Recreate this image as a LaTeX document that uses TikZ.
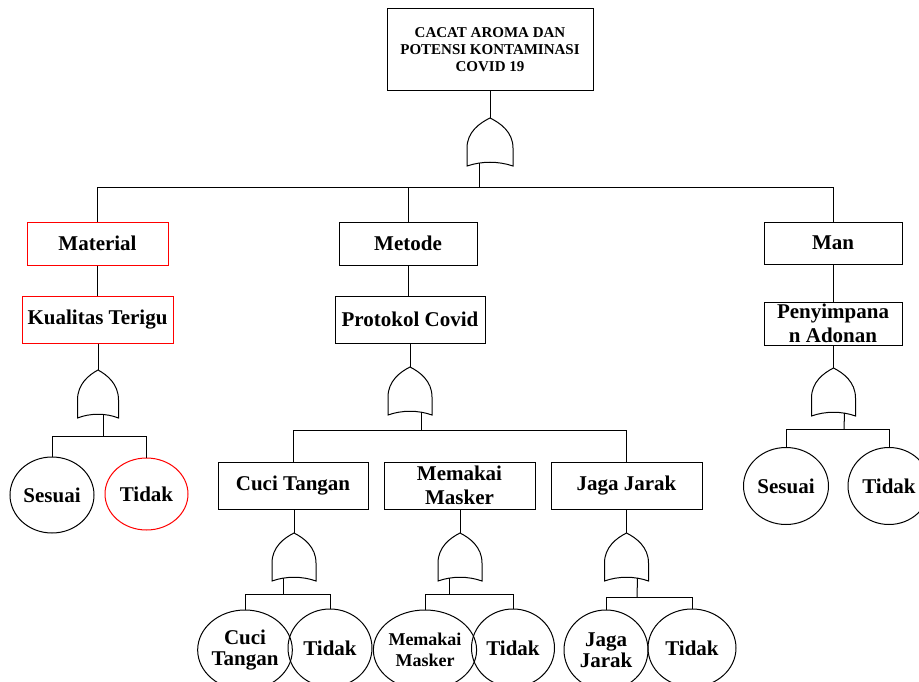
\documentclass[tikz,border=0pt]{standalone}
\usepackage{fontspec}
\setmainfont{Liberation Serif}
\usepackage{tikz}
\usetikzlibrary{shapes.geometric}
\usetikzlibrary{positioning}

\begin{document}
\begin{tikzpicture}[x=1pt,y=-1pt,line width=1pt]
	\tikzset{
	  pics/orgate/.style args={#1/#2}{code={
		\draw (-#1,48) -- (-#1,30) .. controls (-#1,14) and (-0.45*#1,5) .. (0,0)
		  .. controls (0.45*#1,5) and (#1,14) .. (#1,30) -- (#1,48)
		  .. controls (8,43) and (-8,43) .. cycle;
		\coordinate (-in) at (0,0);
		\coordinate (-out) at (#2,45);
		},
	  },
	  box/.style={draw,inner sep=0pt,align=center,font=\bfseries\fontsize{21}{24}\selectfont},
	  redbox/.style={box,draw=red},
	  leaf/.style={ellipse,draw,inner sep=0pt,align=center,minimum width=84,minimum height=78,font=\bfseries\fontsize{21}{21}\selectfont},
	}
	\useasboundingbox (0,0) rectangle (919,682);
	\clip (0,0) rectangle (919,682);
	%TOP EVENT
	\node[box,minimum width=206,minimum height=82,font=\bfseries\fontsize{15}{17}\selectfont] (top) at (490,50)
	  {CACAT AROMA DAN\\POTENSI KONTAMINASI\\COVID 19};
	\pic (g0) at (490,118) {orgate={23/-11}};
	%LEVEL 1
	\node[redbox,minimum width=141,minimum height=43] (mat) at (97.5,243.5) {Material};
	\node[box,minimum width=138,minimum height=43] (met) at (408,243.5) {Metode};
	\node[box,minimum width=138,minimum height=42] (man) at (833,243) {Man};
	%LEVEL 2
	\node[redbox,minimum width=151,minimum height=47] (kual) at (97.5,319.5) {Kualitas Terigu};
	\node[box,minimum width=150,minimum height=47] (prot) at (410,319.5) {Protokol Covid};
	\node[box,minimum width=138,minimum height=43] (peny) at (833,323.5) {Penyimpana\\n Adonan};
	\pic (g1) at (98,370) {orgate={20.5/5}};
	\pic (g2) at (410,367) {orgate={22/11}};
	\pic (g6) at (833.5,368) {orgate={22/11}};
	%LEVEL 3
	\node[box,minimum width=150,minimum height=47] (cuci) at (293,485.5) {Cuci Tangan};
	\node[box,minimum width=151,minimum height=47] (mask) at (459.5,485.5) {Memakai\\Masker};
	\node[box,minimum width=151,minimum height=47] (jaga) at (626.5,485.5) {Jaga Jarak};
	\pic (g3) at (294,533) {orgate={22/-11}};
	\pic (g4) at (460,533) {orgate={22/-11}};
	\pic (g5) at (626.5,533) {orgate={22/11}};
	%LEAVES
	\node[leaf,minimum height=76] (s1) at (52,495) {Sesuai};
	\node[leaf,draw=red,minimum width=83,minimum height=72] (t1) at (146.5,494) {Tidak};
	\node[leaf,minimum width=86,minimum height=80] (ct) at (245,650) {Cuci\\Tangan};
	\node[leaf] (t3) at (330,648) {Tidak};
	\node[leaf,minimum width=83,minimum height=80,font=\bfseries\fontsize{18}{21}\selectfont] (mm) at (425,650) {Memakai\\Masker};
	\node[leaf,minimum width=83] (t4) at (513,648) {Tidak};
	\node[leaf,minimum height=80] (jj) at (606,650) {Jaga\\Jarak};
	\node[leaf,minimum width=88] (t5) at (692,648) {Tidak};
	\node[leaf,minimum width=85,minimum height=77] (s6) at (786,486) {Sesuai};
	\node[leaf,minimum width=82,minimum height=77] (t6) at (889,486) {Tidak};
	%BUSES
	\coordinate (b0) at (479,188);
	\coordinate (b1) at (103,436);
	\coordinate (b2) at (421,430);
	\coordinate (b3) at (283,594);
	\coordinate (b4) at (449,594);
	\coordinate (b5) at (637,597);
	\coordinate (b6) at (844,429);
	%CONNECTORS
	\draw (top) -- (g0-in);
	\draw (g0-out) -- (b0);
	\draw (mat.north) |- (man.north |- b0) -- (man.north);
	\draw (met.north) -- (met.north |- b0);
	\draw (mat) -- (kual);
	\draw (met.south) -- (met.south |- prot.north);
	\draw (man) -- (peny);
	\foreach \a/\b in {kual/g1,prot/g2,peny/g6,cuci/g3,mask/g4,jaga/g5} {
		\draw (\b-in |- \a.south) -- (\b-in) ;
	  }
	\foreach \g/\b in {g1/b1,g2/b2,g3/b3,g4/b4,g5/b5,g6/b6} {
		\draw (\g-out) -- (\b) ;
	  }
	\draw (cuci.north) |- (jaga.north |- b2) -- (jaga.north);
	\foreach \l/\r/\b in {s1/t1/b1,ct/t3/b3,mm/t4/b4,jj/t5/b5,s6/t6/b6} {
		\draw (\l.north) |- (\r.north |- \b) -- (\r.north) ;
	  }
\end{tikzpicture}
\end{document}
